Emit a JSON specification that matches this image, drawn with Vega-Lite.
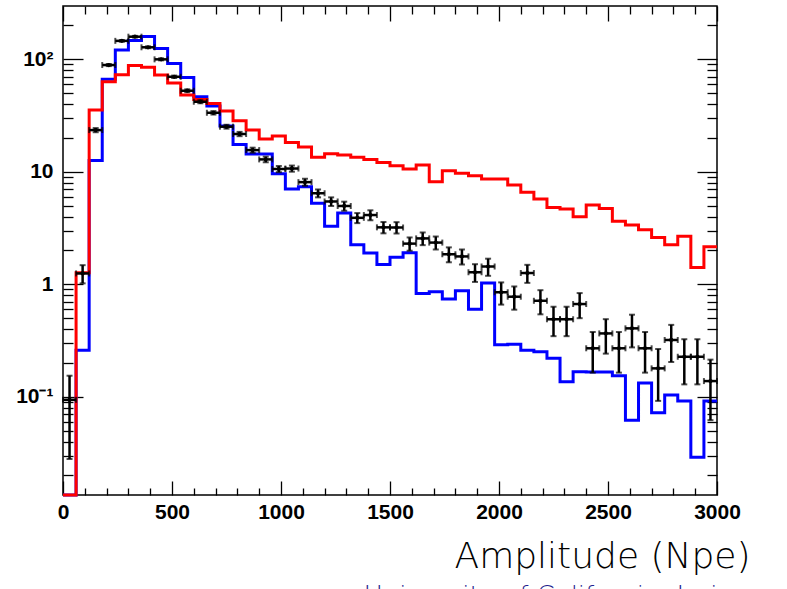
{
  "$schema": "https://vega.github.io/schema/vega-lite/v6.json",
  "width": 654,
  "height": 489,
  "autosize": {"type": "none"},
  "padding": {"left": 63, "top": 6, "right": 70, "bottom": 94},
  "background": "white",
  "config": {
    "view": {"stroke": "black", "strokeWidth": 1.5},
    "axis": {
      "grid": false,
      "domain": false,
      "tickColor": "black",
      "tickWidth": 1.3,
      "labelFont": "Liberation Sans",
      "labelFontWeight": "bold",
      "labelFontSize": 21,
      "labelColor": "black"
    }
  },
  "title": {
    "text": "University of California, Irvine",
    "orient": "bottom",
    "anchor": "end",
    "dx": 0,
    "offset": 10,
    "font": "DejaVu Sans",
    "fontSize": 26,
    "fontWeight": 200,
    "color": "#1f1f8f"
  },
  "datasets": {
    "hist": [
      {"x": 0, "red": 0.01, "blue": 0.01},
      {"x": 60, "red": 1.27, "blue": 0.26},
      {"x": 120, "red": 35.4, "blue": 12.6},
      {"x": 180, "red": 63.2, "blue": 66.4},
      {"x": 240, "red": 73, "blue": 121},
      {"x": 300, "red": 88, "blue": 147},
      {"x": 360, "red": 85, "blue": 160},
      {"x": 420, "red": 72.5, "blue": 125},
      {"x": 480, "red": 61.5, "blue": 92},
      {"x": 540, "red": 48.2, "blue": 69},
      {"x": 600, "red": 44, "blue": 46.6},
      {"x": 660, "red": 40.6, "blue": 38.5},
      {"x": 720, "red": 34.7, "blue": 25.5},
      {"x": 780, "red": 28.4, "blue": 17.5},
      {"x": 840, "red": 23.5, "blue": 14.4},
      {"x": 900, "red": 19.6, "blue": 14.4},
      {"x": 960, "red": 20.8, "blue": 9.6},
      {"x": 1020, "red": 18.2, "blue": 7.05},
      {"x": 1080, "red": 16.6, "blue": 7.35},
      {"x": 1140, "red": 13.5, "blue": 5.25},
      {"x": 1200, "red": 14.5, "blue": 3.28},
      {"x": 1260, "red": 14.1, "blue": 4.3},
      {"x": 1320, "red": 13.5, "blue": 2.25},
      {"x": 1380, "red": 12.9, "blue": 1.9},
      {"x": 1440, "red": 12.1, "blue": 1.5},
      {"x": 1500, "red": 11.3, "blue": 1.74},
      {"x": 1560, "red": 10.6, "blue": 1.91},
      {"x": 1620, "red": 11.5, "blue": 0.83},
      {"x": 1680, "red": 8.17, "blue": 0.86},
      {"x": 1740, "red": 10.2, "blue": 0.74},
      {"x": 1800, "red": 9.7, "blue": 0.877},
      {"x": 1860, "red": 9.25, "blue": 0.6},
      {"x": 1920, "red": 8.64, "blue": 1.03},
      {"x": 1980, "red": 8.64, "blue": 0.29},
      {"x": 2040, "red": 7.64, "blue": 0.293},
      {"x": 2100, "red": 6.58, "blue": 0.26},
      {"x": 2160, "red": 5.73, "blue": 0.252},
      {"x": 2220, "red": 4.83, "blue": 0.22},
      {"x": 2280, "red": 4.67, "blue": 0.136},
      {"x": 2340, "red": 3.99, "blue": 0.167},
      {"x": 2400, "red": 5.07, "blue": 0.166},
      {"x": 2460, "red": 4.71, "blue": 0.166},
      {"x": 2520, "red": 3.63, "blue": 0.154},
      {"x": 2580, "red": 3.37, "blue": 0.062},
      {"x": 2640, "red": 3.06, "blue": 0.133},
      {"x": 2700, "red": 2.61, "blue": 0.072},
      {"x": 2760, "red": 2.25, "blue": 0.104},
      {"x": 2820, "red": 2.67, "blue": 0.092},
      {"x": 2880, "red": 1.41, "blue": 0.029},
      {"x": 2940, "red": 2.16, "blue": 0.092},
      {"x": 3000, "red": 2.16, "blue": 0.092}
    ],
    "pts": [
      {"x0": 0, "x1": 60, "xc": 30, "v": 0.094, "lo": 0.028, "hi": 0.154},
      {"x0": 60, "x1": 120, "xc": 90, "v": 1.25, "lo": 1.02, "hi": 1.48},
      {"x0": 120, "x1": 180, "xc": 150, "v": 23.5, "lo": 22.5, "hi": 24.5},
      {"x0": 180, "x1": 240, "xc": 210, "v": 89, "lo": 87.1, "hi": 90.9},
      {"x0": 240, "x1": 300, "xc": 270, "v": 146, "lo": 143.5, "hi": 148.5},
      {"x0": 300, "x1": 360, "xc": 330, "v": 159, "lo": 156.4, "hi": 161.6},
      {"x0": 360, "x1": 420, "xc": 390, "v": 128, "lo": 125.7, "hi": 130.3},
      {"x0": 420, "x1": 480, "xc": 450, "v": 100, "lo": 98, "hi": 102},
      {"x0": 480, "x1": 540, "xc": 510, "v": 70, "lo": 68.3, "hi": 71.7},
      {"x0": 540, "x1": 600, "xc": 570, "v": 52.6, "lo": 51.1, "hi": 54.1},
      {"x0": 600, "x1": 660, "xc": 630, "v": 42, "lo": 40.7, "hi": 43.3},
      {"x0": 660, "x1": 720, "xc": 690, "v": 33.5, "lo": 32.3, "hi": 34.7},
      {"x0": 720, "x1": 780, "xc": 750, "v": 25.2, "lo": 24.2, "hi": 26.2},
      {"x0": 780, "x1": 840, "xc": 810, "v": 21.7, "lo": 20.75, "hi": 22.65},
      {"x0": 840, "x1": 900, "xc": 870, "v": 15.6, "lo": 14.8, "hi": 16.4},
      {"x0": 900, "x1": 960, "xc": 930, "v": 12.9, "lo": 12.16, "hi": 13.64},
      {"x0": 960, "x1": 1020, "xc": 990, "v": 10.6, "lo": 9.93, "hi": 11.27},
      {"x0": 1020, "x1": 1080, "xc": 1050, "v": 10.7, "lo": 10.03, "hi": 11.37},
      {"x0": 1080, "x1": 1140, "xc": 1110, "v": 8.1, "lo": 7.52, "hi": 8.68},
      {"x0": 1140, "x1": 1200, "xc": 1170, "v": 6.45, "lo": 5.93, "hi": 6.97},
      {"x0": 1200, "x1": 1260, "xc": 1230, "v": 5.45, "lo": 4.97, "hi": 5.93},
      {"x0": 1260, "x1": 1320, "xc": 1290, "v": 4.97, "lo": 4.51, "hi": 5.43},
      {"x0": 1320, "x1": 1380, "xc": 1350, "v": 3.9, "lo": 3.5, "hi": 4.3},
      {"x0": 1380, "x1": 1440, "xc": 1410, "v": 4.13, "lo": 3.71, "hi": 4.55},
      {"x0": 1440, "x1": 1500, "xc": 1470, "v": 3.21, "lo": 2.84, "hi": 3.58},
      {"x0": 1500, "x1": 1560, "xc": 1530, "v": 3.2, "lo": 2.83, "hi": 3.57},
      {"x0": 1560, "x1": 1620, "xc": 1590, "v": 2.3, "lo": 1.99, "hi": 2.61},
      {"x0": 1620, "x1": 1680, "xc": 1650, "v": 2.56, "lo": 2.23, "hi": 2.89},
      {"x0": 1680, "x1": 1740, "xc": 1710, "v": 2.35, "lo": 2.04, "hi": 2.66},
      {"x0": 1740, "x1": 1800, "xc": 1770, "v": 1.85, "lo": 1.57, "hi": 2.13},
      {"x0": 1800, "x1": 1860, "xc": 1830, "v": 1.77, "lo": 1.5, "hi": 2.04},
      {"x0": 1860, "x1": 1920, "xc": 1890, "v": 1.28, "lo": 1.05, "hi": 1.51},
      {"x0": 1920, "x1": 1980, "xc": 1950, "v": 1.44, "lo": 1.19, "hi": 1.69},
      {"x0": 1980, "x1": 2040, "xc": 2010, "v": 0.85, "lo": 0.66, "hi": 1.04},
      {"x0": 2040, "x1": 2100, "xc": 2070, "v": 0.776, "lo": 0.595, "hi": 0.957},
      {"x0": 2100, "x1": 2160, "xc": 2130, "v": 1.26, "lo": 1.03, "hi": 1.49},
      {"x0": 2160, "x1": 2220, "xc": 2190, "v": 0.714, "lo": 0.541, "hi": 0.887},
      {"x0": 2220, "x1": 2280, "xc": 2250, "v": 0.489, "lo": 0.346, "hi": 0.632},
      {"x0": 2280, "x1": 2340, "xc": 2310, "v": 0.489, "lo": 0.346, "hi": 0.632},
      {"x0": 2340, "x1": 2400, "xc": 2370, "v": 0.668, "lo": 0.5, "hi": 0.836},
      {"x0": 2400, "x1": 2460, "xc": 2430, "v": 0.27, "lo": 0.164, "hi": 0.377},
      {"x0": 2460, "x1": 2520, "xc": 2490, "v": 0.366, "lo": 0.242, "hi": 0.49},
      {"x0": 2520, "x1": 2580, "xc": 2550, "v": 0.27, "lo": 0.164, "hi": 0.377},
      {"x0": 2580, "x1": 2640, "xc": 2610, "v": 0.406, "lo": 0.275, "hi": 0.537},
      {"x0": 2640, "x1": 2700, "xc": 2670, "v": 0.27, "lo": 0.164, "hi": 0.377},
      {"x0": 2700, "x1": 2760, "xc": 2730, "v": 0.179, "lo": 0.092, "hi": 0.266},
      {"x0": 2760, "x1": 2820, "xc": 2790, "v": 0.32, "lo": 0.204, "hi": 0.436},
      {"x0": 2820, "x1": 2880, "xc": 2850, "v": 0.227, "lo": 0.129, "hi": 0.325},
      {"x0": 2880, "x1": 2940, "xc": 2910, "v": 0.227, "lo": 0.129, "hi": 0.325},
      {"x0": 2940, "x1": 3000, "xc": 2970, "v": 0.138, "lo": 0.062, "hi": 0.214}
    ]
  },
  "layer": [
    {
      "data": {"name": "hist"},
      "mark": {"type": "line", "interpolate": "step-after", "color": "#0000ff", "strokeWidth": 3},
      "encoding": {
        "x": {"field": "x", "type": "quantitative",
          "scale": {"domain": [0, 3000], "nice": false, "zero": false},
          "axis": {"orient": "bottom", "offset": -14, "values": [0, 500, 1000, 1500, 2000, 2500, 3000], "tickSize": 14, "format": "d", "labelPadding": 6, "labelFlush": false, "labelOverlap": false,
            "title": "Amplitude (Npe)", "titleX": 687, "titleY": 86, "titleAlign": "right", "titleBaseline": "alphabetic", "titleFont": "DejaVu Sans", "titleFontSize": 36, "titleFontWeight": 200, "titleColor": "black"}},
        "y": {"field": "blue", "type": "quantitative",
          "scale": {"type": "log", "domain": [0.0134, 298], "nice": false, "clamp": true},
          "axis": {"orient": "left", "offset": -20, "values": [0.1, 1, 10, 100], "tickSize": 20, "labelPadding": 10, "labelOverlap": false, "title": null,
            "labelExpr": "datum.value == 100 ? '10²' : datum.value == 10 ? '10' : datum.value == 1 ? '1' : datum.value == 0.1 ? '10⁻¹' : ''"}}
      }
    },
    {
      "data": {"name": "hist"},
      "mark": {"type": "line", "interpolate": "step-after", "color": "#ff0000", "strokeWidth": 3},
      "encoding": {
        "x": {"field": "x", "type": "quantitative",
          "scale": {"domain": [0, 3000], "nice": false, "zero": false},
          "axis": {"orient": "top", "offset": -15, "values": [0, 500, 1000, 1500, 2000, 2500, 3000], "tickSize": 15, "labels": false, "title": null}},
        "y": {"field": "red", "type": "quantitative",
          "scale": {"type": "log", "domain": [0.0134, 298], "nice": false, "clamp": true},
          "axis": {"orient": "right", "offset": -20, "values": [0.1, 1, 10, 100], "tickSize": 20, "labels": false, "title": null}}
      }
    },
    {
      "data": {"name": "pts"},
      "mark": {"type": "rule", "color": "black", "strokeWidth": 2.5},
      "encoding": {
        "x": {"field": "xc", "type": "quantitative",
          "scale": {"domain": [0, 3000], "nice": false, "zero": false},
          "axis": {"orient": "bottom", "offset": -7, "values": [100, 200, 300, 400, 600, 700, 800, 900, 1100, 1200, 1300, 1400, 1600, 1700, 1800, 1900, 2100, 2200, 2300, 2400, 2600, 2700, 2800, 2900], "tickSize": 7, "labels": false, "title": null}},
        "y": {"field": "lo", "type": "quantitative",
          "scale": {"type": "log", "domain": [0.0134, 298], "nice": false, "clamp": true},
          "axis": {"orient": "left", "offset": -10, "values": [0.02, 0.03, 0.04, 0.05, 0.06, 0.07, 0.08, 0.09, 0.2, 0.3, 0.4, 0.5, 0.6, 0.7, 0.8, 0.9, 2, 3, 4, 5, 6, 7, 8, 9, 20, 30, 40, 50, 60, 70, 80, 90, 200], "tickSize": 10, "labels": false, "title": null}},
        "y2": {"field": "hi"}
      }
    },
    {
      "data": {"name": "pts"},
      "mark": {"type": "rule", "color": "black", "strokeWidth": 2.5},
      "encoding": {
        "x": {"field": "x0", "type": "quantitative",
          "scale": {"domain": [0, 3000], "nice": false, "zero": false},
          "axis": {"orient": "top", "offset": -8, "values": [100, 200, 300, 400, 600, 700, 800, 900, 1100, 1200, 1300, 1400, 1600, 1700, 1800, 1900, 2100, 2200, 2300, 2400, 2600, 2700, 2800, 2900], "tickSize": 8, "labels": false, "title": null}},
        "x2": {"field": "x1"},
        "y": {"field": "v", "type": "quantitative",
          "scale": {"type": "log", "domain": [0.0134, 298], "nice": false, "clamp": true},
          "axis": {"orient": "right", "offset": -10, "values": [0.02, 0.03, 0.04, 0.05, 0.06, 0.07, 0.08, 0.09, 0.2, 0.3, 0.4, 0.5, 0.6, 0.7, 0.8, 0.9, 2, 3, 4, 5, 6, 7, 8, 9, 20, 30, 40, 50, 60, 70, 80, 90, 200], "tickSize": 10, "labels": false, "title": null}}
      }
    },
    {
      "data": {"name": "pts"},
      "mark": {"type": "tick", "orient": "horizontal", "color": "black", "size": 6, "thickness": 2},
      "encoding": {
        "x": {"field": "xc", "type": "quantitative", "axis": null},
        "y": {"field": "lo", "type": "quantitative", "axis": null}
      }
    },
    {
      "data": {"name": "pts"},
      "mark": {"type": "tick", "orient": "horizontal", "color": "black", "size": 6, "thickness": 2},
      "encoding": {
        "x": {"field": "xc", "type": "quantitative", "axis": null},
        "y": {"field": "hi", "type": "quantitative", "axis": null}
      }
    },
    {
      "data": {"name": "pts"},
      "mark": {"type": "tick", "orient": "vertical", "color": "black", "size": 6, "thickness": 2},
      "encoding": {
        "x": {"field": "x0", "type": "quantitative", "axis": null},
        "y": {"field": "v", "type": "quantitative", "axis": null}
      }
    },
    {
      "data": {"name": "pts"},
      "mark": {"type": "tick", "orient": "vertical", "color": "black", "size": 6, "thickness": 2},
      "encoding": {
        "x": {"field": "x1", "type": "quantitative", "axis": null},
        "y": {"field": "v", "type": "quantitative", "axis": null}
      }
    },
    {
      "data": {"name": "pts"},
      "mark": {"type": "point", "shape": "circle", "filled": true, "color": "black", "size": 18, "opacity": 1},
      "encoding": {
        "x": {"field": "xc", "type": "quantitative", "axis": null},
        "y": {"field": "v", "type": "quantitative", "axis": null}
      }
    }
  ],
  "resolve": {"axis": {"x": "independent", "y": "independent"}}
}
